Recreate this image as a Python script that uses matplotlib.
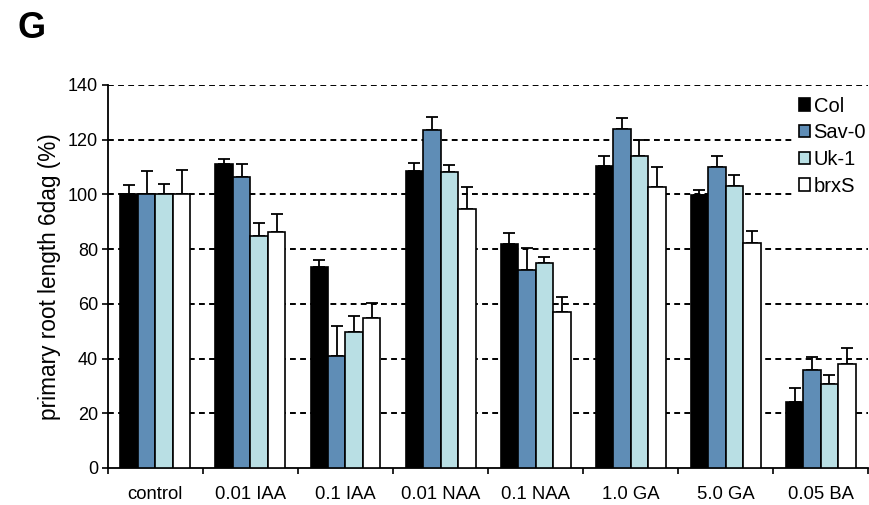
import numpy as np
import matplotlib
matplotlib.use("Agg")
import matplotlib.pyplot as plt

plt.rcParams['font.family'] = ['Liberation Sans', 'DejaVu Sans']

treatments = ["control", "0.01 IAA", "0.1 IAA", "0.01 NAA", "0.1 NAA",
              "1.0 GA", "5.0 GA", "0.05 BA"]
lines = ["Col", "Sav-0", "Uk-1", "brxS"]

col_mean = [100, 111.2, 73.3, 108.4, 82.0, 110.3, 99.8, 24.1]
sav_mean = [100, 106.5, 41.1, 123.4, 72.3, 123.9, 109.9, 35.7]
uk_mean = [100, 84.7, 49.8, 108.1, 75.0, 114.0, 103.2, 30.6]
brx_mean = [100, 86.1, 54.8, 94.5, 57.0, 102.6, 82.2, 38.1]

col_err = [3.4, 1.6, 2.7, 3.0, 4.0, 3.6, 1.8, 5.3]
sav_err = [8.5, 4.4, 10.6, 4.9, 7.9, 4.1, 4.1, 4.8]
uk_err = [3.9, 4.8, 5.9, 2.5, 2.2, 5.8, 3.9, 3.5]
brx_err = [8.8, 6.6, 5.6, 8.3, 5.6, 7.3, 4.4, 5.6]

means = [col_mean, sav_mean, uk_mean, brx_mean]
errs = [col_err, sav_err, uk_err, brx_err]
colors = ["#000000", "#5f8db6", "#b9dfe4", "#ffffff"]

fig = plt.figure(figsize=(8.7, 5.05), dpi=100)
ax = fig.add_axes([0.124, 0.0733, 0.874, 0.7587])

x = np.arange(len(treatments)) + 0.5
w = 0.184
offsets = (np.arange(4) - 1.5) * w

handles = []
for m, e, c, off, name in zip(means, errs, colors, offsets, lines):
    m = np.array(m)
    e = np.array(e)
    b = ax.bar(x + off, m, width=w, color=c, edgecolor="black",
               linewidth=1.2, zorder=3, label=name)
    ax.errorbar(x + off, m, yerr=[np.zeros_like(e), e], fmt="none",
                ecolor="black", elinewidth=1.3, capsize=4, capthick=1.3,
                zorder=2)
    handles.append(b)

ax.set_xlim(0, 8)
ax.set_ylim(0, 140)
ax.set_yticks(np.arange(0, 141, 20))
ax.set_xticks(np.arange(0, 9), minor=True)
ax.set_xticks(x)
ax.set_xticklabels(treatments, fontsize=13.3)
ax.tick_params(axis="x", which="major", length=0, pad=13)
ax.tick_params(axis="x", which="minor", length=4, width=1.2, direction="out")
ax.tick_params(axis="y", length=4, width=1.2, direction="out", labelsize=13, pad=3)

for yv in range(20, 141, 20):
    ax.axhline(yv, color="black", lw=1.4, ls=(0, (3, 2.2)), zorder=1)

for side in ["top", "right"]:
    ax.spines[side].set_visible(False)
for side in ["left", "bottom"]:
    ax.spines[side].set_linewidth(1.3)

ax.set_ylabel("primary root length 6dag (%)", fontsize=16.3, labelpad=5)

leg = ax.legend(handles=handles, labels=lines, loc="upper right",
                bbox_to_anchor=(1.005, 0.985), frameon=True, fancybox=False,
                edgecolor="none", facecolor="white", framealpha=1,
                fontsize=14.5, handlelength=0.55, handleheight=0.55,
                handletextpad=0.15, labelspacing=0.38, borderpad=0.3,
                borderaxespad=0)
leg.set_zorder(5)

fig.text(0.02, 0.925, "G", fontsize=26, fontweight="bold", ha="left")

fig.savefig("out.png", dpi=100, facecolor="white")
